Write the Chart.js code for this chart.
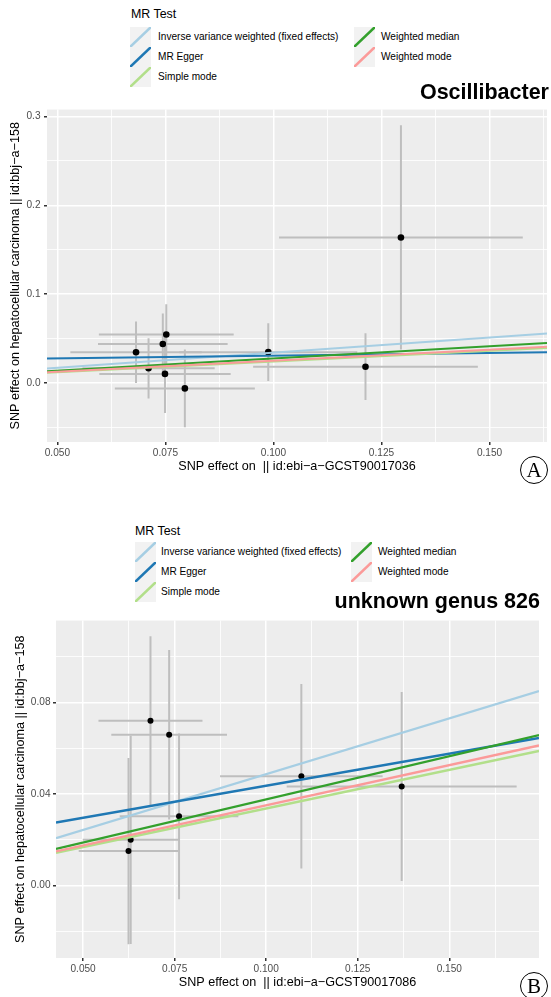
<!DOCTYPE html>
<html>
<head>
<meta charset="utf-8">
<script src="https://cdn.jsdelivr.net/npm/chart.js@4.4.1/dist/chart.umd.min.js"></script>
<style>
  html,body{margin:0;padding:0;background:#ffffff;}
  body{position:relative;width:551px;height:997px;overflow:hidden;font-family:"Liberation Sans",Arial,Helvetica,sans-serif;color:#000;}
  canvas{position:absolute;left:0;}
  .abs{position:absolute;white-space:pre;}
  .lgtitle{font-size:12.4px;line-height:14px;}
  .lglabel{font-size:10.1px;line-height:12px;color:#000;}
  .ptitle{font-weight:bold;font-size:21.5px;line-height:21.5px;text-align:right;}
  .tag{width:26px;height:26px;border:1px solid #000;border-radius:50%;font-family:"Liberation Serif","DejaVu Serif",serif;font-size:21px;line-height:27px;text-align:center;}
</style>
</head>
<body>
<canvas id="cA" width="551" height="380" style="top:100px"></canvas>
<canvas id="cB" width="551" height="385" style="top:612px"></canvas>
<script>
// ---------------- data ----------------
const methods = ["Inverse variance weighted (fixed effects)", "MR Egger", "Simple mode", "Weighted median", "Weighted mode"];
const methodColors = ["#A6CEE3", "#1F78B4", "#B2DF8A", "#33A02C", "#FB9A99"];

// Panel A : Oscillibacter
const A_title = "Oscillibacter";
const A_xTitle = "SNP effect on  || id:ebi\u2212a\u2212GCST90017036";
const A_yTitle = "SNP effect on hepatocellular carcinoma || id:bbj\u2212a\u2212158";
const A_bx = [0.0682, 0.0711, 0.0744, 0.0752, 0.0749, 0.0795, 0.0988, 0.1213, 0.1295];
const A_by = [0.0344, 0.0163, 0.0437, 0.0544, 0.0100, -0.0063, 0.0345, 0.0181, 0.1637];
const A_sx = [0.0152, 0.0153, 0.0150, 0.0156, 0.0152, 0.0162, 0.0206, 0.0260, 0.0282];
const A_sy = [0.0346, 0.0339, 0.0344, 0.0342, 0.0441, 0.0438, 0.0325, 0.0376, 0.1263];
const A_slope = [0.340, 0.0605, 0.240, 0.275, 0.248];
const A_icpt = [0, 0.0245, 0, 0, 0];
const A_xTicks = [0.05, 0.075, 0.1, 0.125, 0.15];
const A_yTicks = [0.0, 0.1, 0.2, 0.3];
const A_xLim = [0.0476, 0.1633];
const A_yLim = [-0.0667, 0.3078];

// Panel B : unknown genus 826
const B_title = "unknown genus 826";
const B_xTitle = "SNP effect on  || id:ebi\u2212a\u2212GCST90017086";
const B_yTitle = "SNP effect on hepatocellular carcinoma || id:bbj\u2212a\u2212158";
const B_bx = [0.0684, 0.0735, 0.0762, 0.0630, 0.0624, 0.1096, 0.1370];
const B_by = [0.0720, 0.0659, 0.0303, 0.0200, 0.0151, 0.0478, 0.0433];
const B_sx = [0.0142, 0.0158, 0.0162, 0.0131, 0.0136, 0.0222, 0.0314];
const B_sy = [0.0370, 0.0370, 0.0362, 0.0455, 0.0407, 0.0403, 0.0413];
const B_slope = [0.487, 0.2796, 0.337, 0.377, 0.351];
const B_icpt = [0, 0.0157, 0, 0, 0];
const B_xTicks = [0.05, 0.075, 0.1, 0.125, 0.15];
const B_yTicks = [0.00, 0.04, 0.08];
const B_xLim = [0.0426, 0.1745];
const B_yLim = [-0.0316, 0.1158];

// ---------------- helpers ----------------
const FONT = '"Liberation Sans", Arial, Helvetica, sans-serif';
Chart.defaults.font.family = FONT;

function withMinor(majors, lim) {
  const step = majors[1] - majors[0];
  const out = [];
  for (let k = -1; k <= majors.length; k++) {
    const m = majors[0] + k * step;
    const h = m + step / 2;
    if (k >= 0 && k < majors.length) out.push(majors[k]);
    if (h >= lim[0] && h <= lim[1]) out.push(h);
  }
  return out.filter(v => v >= lim[0] - 1e-12 && v <= lim[1] + 1e-12).sort((a, b) => a - b);
}
function isMajorOf(majors) { return v => majors.some(m => Math.abs(m - v) < 1e-9); }

const bgPlugin = {
  id: 'panelBg',
  beforeDraw(chart) {
    const a = chart.chartArea, ctx = chart.ctx;
    ctx.save();
    ctx.fillStyle = '#EDEDED';
    ctx.fillRect(a.left, a.top, a.right - a.left, a.bottom - a.top);
    ctx.restore();
  }
};

function axis(opts) {
  const major = isMajorOf(opts.majors);
  const all = withMinor(opts.majors, opts.lim);
  return {
    type: 'linear',
    position: opts.position,
    min: opts.lim[0], max: opts.lim[1],
    afterBuildTicks: s => { s.ticks = all.map(v => ({ value: v })); },
    afterFit: s => { if (opts.position === 'bottom') s.height = opts.size; else s.width = opts.size; },
    ticks: {
      autoSkip: false, maxRotation: 0, minRotation: 0,
      padding: opts.tickPad,
      color: '#4D4D4D',
      font: { family: FONT, size: 10.1 },
      callback: v => major(v) ? v.toFixed(opts.dec) : ''
    },
    grid: {
      color: '#FFFFFF',
      lineWidth: c => (c.tick && major(c.tick.value)) ? 1.5 : 0.8,
      drawTicks: true,
      tickLength: 3,
      tickWidth: 1.5,
      tickColor: c => (c.tick && major(c.tick.value)) ? '#333333' : 'rgba(0,0,0,0)'
    },
    border: { display: false },
    title: {
      display: true, text: opts.title, color: '#000000',
      font: { family: FONT, size: 12.6, lineHeight: 1 },
      padding: opts.titlePad
    }
  };
}

function makeChart(id, P) {
  const ds = [];
  P.bx.forEach((x, i) => {
    ds.push({ data: [{ x: x, y: P.by[i] - P.sy[i] }, { x: x, y: P.by[i] + P.sy[i] }],
      showLine: true, borderColor: '#BEBEBE', borderWidth: 2, pointRadius: 0, order: 5 });
  });
  P.bx.forEach((x, i) => {
    ds.push({ data: [{ x: x - P.sx[i], y: P.by[i] }, { x: x + P.sx[i], y: P.by[i] }],
      showLine: true, borderColor: '#BEBEBE', borderWidth: 2, pointRadius: 0, order: 4 });
  });
  ds.push({ data: P.bx.map((x, i) => ({ x: x, y: P.by[i] })), showLine: false,
    backgroundColor: '#000000', borderColor: '#000000', borderWidth: 0, pointRadius: P.pr, order: 3 });
  methods.forEach((m, k) => {
    const x0 = P.xLim[0], x1 = P.xLim[1];
    ds.push({ label: m, data: [{ x: x0, y: P.icpt[k] + P.slope[k] * x0 }, { x: x1, y: P.icpt[k] + P.slope[k] * x1 }],
      showLine: true, borderColor: methodColors[k], borderWidth: P.lw, pointRadius: 0,
      order: 1 + (methods.length - 1 - k) * 0.1 });
  });
  return new Chart(document.getElementById(id), {
    type: 'scatter',
    data: { datasets: ds },
    plugins: [bgPlugin],
    options: {
      responsive: false, animation: false, events: [],
      layout: { padding: P.pad },
      plugins: { legend: { display: false }, tooltip: { enabled: false }, title: { display: false } },
      scales: {
        x: axis({ position: 'bottom', majors: P.xTicks, lim: P.xLim, dec: P.xDec, size: P.xSize, tickPad: 2,
                  title: P.xTitle, titlePad: { top: 0, bottom: P.xTitlePad } }),
        y: axis({ position: 'left', majors: P.yTicks, lim: P.yLim, dec: P.yDec, size: P.ySize, tickPad: P.yTickPad,
                  title: P.yTitle, titlePad: { top: P.yTitlePad, bottom: 0 } })
      }
    }
  });
}

makeChart('cA', { bx: A_bx, by: A_by, sx: A_sx, sy: A_sy, slope: A_slope, icpt: A_icpt,
  xTicks: A_xTicks, yTicks: A_yTicks, xLim: A_xLim, yLim: A_yLim, xDec: 3, yDec: 1,
  xTitle: A_xTitle, yTitle: A_yTitle, pr: 3.3, lw: 2,
  pad: { top: 6, right: 2, left: 0, bottom: 0 }, xSize: 38, ySize: 47, yTickPad: 3.5,
  xTitlePad: 6.7, yTitlePad: 9.7 });

makeChart('cB', { bx: B_bx, by: B_by, sx: B_sx, sy: B_sy, slope: B_slope, icpt: B_icpt,
  xTicks: B_xTicks, yTicks: B_yTicks, xLim: B_xLim, yLim: B_yLim, xDec: 3, yDec: 2,
  xTitle: B_xTitle, yTitle: B_yTitle, pr: 3, lw: 2.4,
  pad: { top: 7.5, right: 12, left: 0, bottom: 0 }, xSize: 39, ySize: 56, yTickPad: 2.5,
  xTitlePad: 7.7, yTitlePad: 14.2 });

// ---------------- legends, titles, tags (HTML text) ----------------
function addDiv(cls, text, style) {
  const d = document.createElement('div');
  d.className = 'abs ' + cls;
  d.textContent = text;
  Object.assign(d.style, style);
  document.body.appendChild(d);
  return d;
}
function legend(L) {
  addDiv('lgtitle', 'MR Test', { left: L.titleX + 'px', top: (L.titleY - 7) + 'px' });
  methods.forEach((m, k) => {
    const col = k < 3 ? 0 : 1, row = k < 3 ? k : k - 3;
    const cy = L.rows[row];
    const svg = document.createElementNS('http://www.w3.org/2000/svg', 'svg');
    svg.setAttribute('width', '21'); svg.setAttribute('height', '20');
    svg.style.position = 'absolute';
    svg.style.left = L.keyX[col] + 'px';
    svg.style.top = (cy - 10) + 'px';
    svg.innerHTML = '<rect x="0" y="0" width="21" height="20" fill="#F2F2F2"/>' +
      '<line x1="0" y1="20" x2="21" y2="0" stroke="' + methodColors[k] + '" stroke-width="2.6"/>';
    document.body.appendChild(svg);
    addDiv('lglabel', m, { left: L.labelX[col] + 'px', top: (cy - 6) + 'px' });
  });
}
legend({ titleX: 131, titleY: 14, keyX: [130, 354], labelX: [158, 381], rows: [37, 57, 77] });
legend({ titleX: 135, titleY: 531, keyX: [135, 351], labelX: [161, 378], rows: [552, 572, 592] });

addDiv('ptitle', A_title, { right: (551 - 549) + 'px', top: '82px' });
addDiv('ptitle', B_title, { right: (551 - 540) + 'px', top: '591px' });

addDiv('tag', 'A', { left: '520px', top: '456px' });
addDiv('tag', 'B', { left: '520px', top: '972px' });
</script>
</body>
</html>
